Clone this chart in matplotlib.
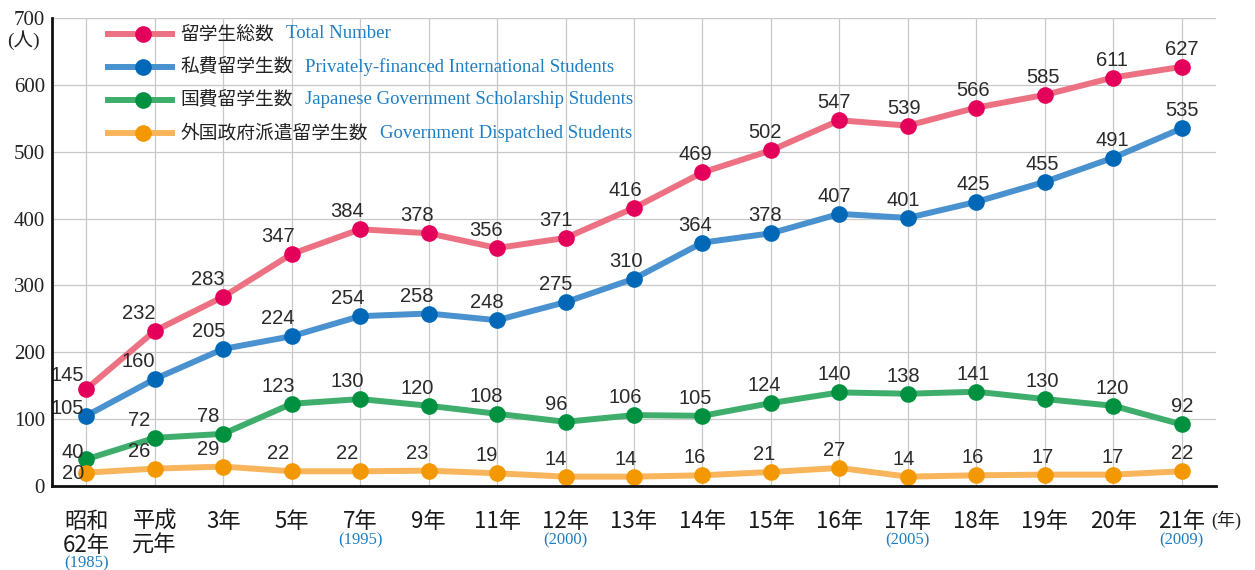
import matplotlib
matplotlib.use('Agg')
from matplotlib import pyplot as plt
from matplotlib import transforms

plt.rcParams['font.family'] = ['Noto Sans CJK JP', 'DejaVu Sans']

years_jp = ['昭和\n62年', '平成\n元年', '3年', '5年', '7年', '9年', '11年', '12年', '13年',
            '14年', '15年', '16年', '17年', '18年', '19年', '20年', '21年']
years_west = ['(1985)', '', '', '', '(1995)', '', '', '(2000)', '', '', '', '', '(2005)',
              '', '', '', '(2009)']

total = [145, 232, 283, 347, 384, 378, 356, 371, 416, 469, 502, 547, 539, 566, 585, 611, 627]
private = [105, 160, 205, 224, 254, 258, 248, 275, 310, 364, 378, 407, 401, 425, 455, 491, 535]
govt = [40, 72, 78, 123, 130, 120, 108, 96, 106, 105, 124, 140, 138, 141, 130, 120, 92]
dispatched = [20, 26, 29, 22, 22, 23, 19, 14, 14, 16, 21, 27, 14, 16, 17, 17, 22]

names_jp = ['留学生総数', '私費留学生数', '国費留学生数', '外国政府派遣留学生数']
names_en = ['Total Number', 'Privately-financed International Students',
            'Japanese Government Scholarship Students', 'Government Dispatched Students']

series = [total, private, govt, dispatched]
line_colors = ['#ec7283', '#4a92cf', '#3fae6c', '#f8b55c']
dot_colors = ['#e4005a', '#0068b7', '#009140', '#f39800']
# first column labels sit left of the dot, shifted a bit per series (px)
first_dy = [8, 2, 1, -6]

num_font = dict(family=['Liberation Sans', 'DejaVu Sans'], fontsize=14.5, color='#2a2a2a')
serif = ['Liberation Serif', 'DejaVu Serif']

fig = plt.figure(figsize=(12.55, 5.70), dpi=100)
ax = fig.add_axes([52 / 1255, 84 / 570, 1164 / 1255, 468 / 570])

x = list(range(len(years_jp)))
ax.set_xlim(-0.5, 16.5)
ax.set_ylim(0, 700)

# grid
for yv in range(100, 701, 100):
    ax.axhline(yv, color='#c8c8c8', lw=0.9, zorder=1)
for xv in x:
    ax.axvline(xv, ymin=0, ymax=1, color='#c8c8c8', lw=0.9, zorder=1)

px = 0.72  # points per pixel
for k, vals in enumerate(series):
    ax.plot(x, vals, color=line_colors[k], lw=4.3, solid_capstyle='butt', zorder=3)
    ax.plot(x, vals, 'o', color=dot_colors[k], ms=12, mec='none', zorder=4)
    for i, v in enumerate(vals):
        if i == 0:
            ax.annotate(str(v), (i, v), xytext=(-2 * px, first_dy[k] * px),
                        textcoords='offset points', ha='right', va='baseline',
                        zorder=5, **num_font)
        else:
            dx = -16 * (16 - i) / 15
            ax.annotate(str(v), (i, v), xytext=(dx * px, 12 * px),
                        textcoords='offset points', ha='center', va='baseline',
                        zorder=5, **num_font)

# legend drawn by hand (two colours of text)
leg_y = [0.966, 0.895, 0.825, 0.754]
for k in range(4):
    ax.plot([0.048, 0.103], [leg_y[k], leg_y[k]], transform=ax.transAxes,
            color=line_colors[k], lw=4.3, clip_on=False, zorder=3)
    ax.plot([0.078], [leg_y[k]], 'o', transform=ax.transAxes, color=dot_colors[k],
            ms=12, mec='none', clip_on=False, zorder=4)
    jp = ax.text(0.110, leg_y[k], names_jp[k], transform=ax.transAxes, ha='left',
                 va='center', fontsize=13.5, color='#222222', zorder=5)
    ax.annotate(names_en[k], xy=(1, 0.5), xycoords=jp, xytext=(9, 0),
                textcoords='offset points', ha='left', va='center', fontsize=13.5,
                color='#1e7ec3', family=serif, zorder=5)

# axes styling
for s in ['top', 'right']:
    ax.spines[s].set_visible(False)
for s in ['left', 'bottom']:
    ax.spines[s].set_linewidth(2)
    ax.spines[s].set_color('#111111')
    ax.spines[s].set_zorder(6)

ax.set_yticks(range(0, 701, 100))
ax.set_yticklabels([str(v) for v in range(0, 701, 100)],
                   family=serif, fontsize=15, color='#222222')
ax.tick_params(axis='y', length=0, pad=5)

ax.set_xticks(x)
ax.set_xticklabels(years_jp, fontsize=16, color='#1a1a1a', linespacing=1.05)
ax.tick_params(axis='x', length=0, pad=17)

blend = transforms.blended_transform_factory(ax.transData, ax.transAxes)
for i, yw in enumerate(years_west):
    if not yw:
        continue
    off = -77 if '\n' in years_jp[i] else -54
    ax.annotate(yw, (i, 0), xycoords=blend, xytext=(0, off * px), textcoords='offset points',
                ha='center', va='center', fontsize=12, color='#1e7ec3',
                family=serif, annotation_clip=False)

fig.text(40 / 1255, 1 - 40 / 570, '(人)', ha='right', va='center', fontsize=14,
         color='#222222', family=['Liberation Serif', 'Noto Sans CJK JP'])
fig.text(1211 / 1255, 1 - 520 / 570, '(年)', ha='left', va='center', fontsize=13,
         color='#222222', family=['Liberation Serif', 'Noto Sans CJK JP'])

fig.savefig('out.png', dpi=100)
